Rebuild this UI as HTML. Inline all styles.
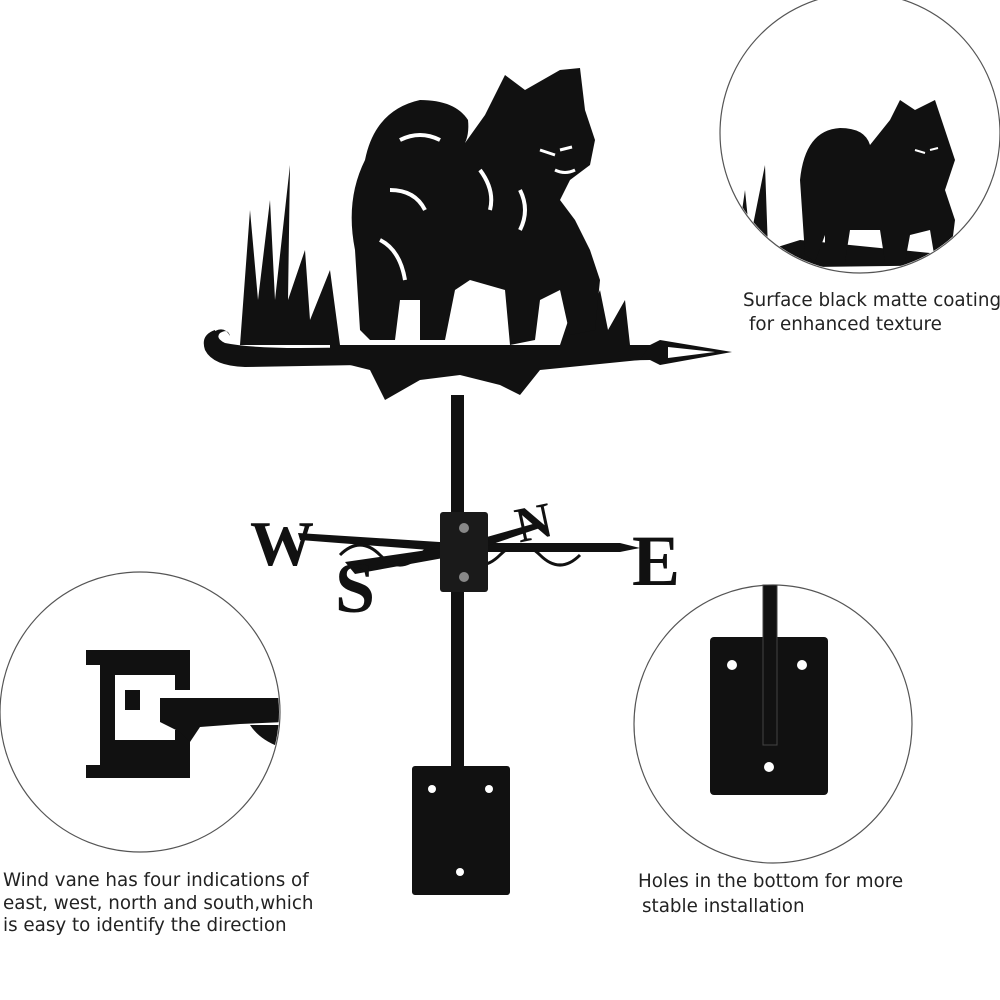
<!DOCTYPE html>
<html><head><meta charset="utf-8"><style>
html,body{margin:0;padding:0;background:#fff;}
svg{display:block}
text{font-family:"DejaVu Sans","Liberation Sans",sans-serif;fill:#222;}
</style></head><body>
<svg width="1000" height="1000" viewBox="0 0 1000 1000" xmlns="http://www.w3.org/2000/svg">
<circle cx="860" cy="133" r="140" fill="#fff" stroke="#555" stroke-width="1.2"/>
<circle cx="140" cy="712" r="140" fill="#fff" stroke="#555" stroke-width="1.2"/>
<circle cx="773" cy="724" r="139" fill="#fff" stroke="#555" stroke-width="1.2"/>

<path d="M215 330 q-15 5 -10 20 q8 16 40 17 L650 360 L660 365 L732 352 L660 340 L650 345 L300 348 q-50 0 -75 -5 q-10 -5 -5 -10 q8 -5 10 3 q-5 -10 -15 -5z" fill="#111"/>
<polygon points="668,347 715,352 668,358" fill="#fff"/>
<path d="M240 345 L250 210 L258 300 L270 200 L275 300 L290 165 L288 300 L305 250 L310 320 L330 270 L340 345z" fill="#111"/>
<path d="M560 345 L575 300 L585 325 L600 290 L608 330 L625 300 L630 345z" fill="#111"/>
<path d="M330 345 L650 345 L640 360 L540 370 L520 395 L500 385 L460 375 L420 380 L385 400 L370 370 L330 360z" fill="#111"/>
<path d="M360 330 L355 250 Q345 200 365 160 Q375 110 420 100 Q455 100 468 120 Q470 140 460 150 L485 115 L505 75 L525 90 L560 70 L580 68 L585 110 L595 140 L590 165 L570 180 L560 200 L575 220 L590 250 L600 280 L595 330 L570 335 L560 290 L540 300 L535 340 L510 345 L505 290 L470 280 L455 290 L445 340 L420 340 L420 300 L400 300 L395 340 L370 340z" fill="#111"/>
<path d="M540 150 l15 5 M560 150 l12 -3 M555 170 q10 5 20 0" stroke="#fff" stroke-width="3" fill="none"/>
<path d="M400 140 q20 -10 40 0 M390 190 q25 0 35 20 M480 170 q15 20 10 40 M520 190 q10 20 0 40 M380 240 q20 10 25 40" stroke="#fff" stroke-width="4" fill="none"/>

<rect x="451" y="395" width="13" height="375" fill="#111"/>
<path d="M298 533 L455 543 L620 543 L640 548 L620 552 L455 552 L300 540z" fill="#111"/>
<path d="M345 562 L455 546 L540 522 L543 527 L460 555 L355 574z" fill="#111"/>
<path d="M340 555 q20 -20 40 0 q20 20 40 0 q20 -20 40 0 q20 20 40 0 q20 -20 40 0 q20 20 40 0" stroke="#111" stroke-width="3" fill="none"/>
<text x="250" y="565" font-size="64" font-weight="bold" style="font-family:'Liberation Serif',serif;fill:#111">W</text>
<text x="632" y="585" font-size="72" font-weight="bold" style="font-family:'Liberation Serif',serif;fill:#111">E</text>
<text x="515" y="540" font-size="50" font-weight="bold" style="font-family:'Liberation Serif',serif;fill:#111" transform="rotate(-12 530 520)">N</text>
<text x="335" y="612" font-size="72" font-weight="bold" style="font-family:'Liberation Serif',serif;fill:#111">S</text>
<rect x="440" y="512" width="48" height="80" rx="3" fill="#1a1a1a"/>
<circle cx="464" cy="528" r="5" fill="#888"/><circle cx="464" cy="577" r="5" fill="#888"/>
<rect x="412" y="766" width="98" height="129" rx="3" fill="#111"/>
<circle cx="432" cy="789" r="4" fill="#fff"/><circle cx="489" cy="789" r="4" fill="#fff"/><circle cx="460" cy="872" r="4" fill="#fff"/>

<clipPath id="c1"><circle cx="860" cy="133" r="139"/></clipPath>
<g clip-path="url(#c1)">
<path d="M735 260 L745 190 L750 240 L765 165 L768 250 L800 240 L950 255 L965 265 L735 268z" fill="#111"/>
<path d="M805 255 L800 180 Q805 130 840 128 Q865 128 870 145 L890 120 L900 100 L915 110 L935 100 L945 130 L955 160 L945 190 L955 220 L950 260 L935 260 L930 230 L910 235 L905 262 L885 262 L880 230 L850 230 L845 262 L825 262 L825 235 L815 262z" fill="#111"/>
<path d="M915 150 l10 3 M930 150 l8 -2" stroke="#fff" stroke-width="2"/>
</g>
<clipPath id="c2"><circle cx="140" cy="712" r="139"/></clipPath>
<g clip-path="url(#c2)">
<path d="M86 650 L190 650 L190 690 L175 690 L175 675 L115 675 L115 690 L140 690 L140 710 L125 710 L125 690 L115 690 L115 740 L175 740 L175 730 L190 730 L190 778 L86 778 L86 765 L100 765 L100 665 L86 665z" fill="#111"/>
<path d="M160 698 L285 698 L285 722 L240 724 L200 727 L190 742 L180 732 L160 722z" fill="#111"/>
<path d="M250 725 q10 15 30 22 l0 -22z" fill="#111"/>
</g>
<rect x="710" y="637" width="118" height="158" rx="4" fill="#111"/>
<rect x="763" y="585" width="14" height="160" fill="#111" stroke="#444" stroke-width="1"/>
<circle cx="732" cy="665" r="5" fill="#fff"/><circle cx="802" cy="665" r="5" fill="#fff"/><circle cx="769" cy="767" r="5" fill="#fff"/>

<text x="743" y="306" font-size="18.3">Surface black matte coating</text>
<text x="749" y="330" font-size="18.3">for enhanced texture</text>
<text x="3" y="886" font-size="18.3">Wind vane has four indications of</text>
<text x="3" y="909" font-size="18.3">east, west, north and south,which</text>
<text x="3" y="931" font-size="18.3">is easy to identify the direction</text>
<text x="638" y="887" font-size="18.3">Holes in the bottom for more</text>
<text x="642" y="912" font-size="18.3">stable installation</text>
</svg>
</body></html>
